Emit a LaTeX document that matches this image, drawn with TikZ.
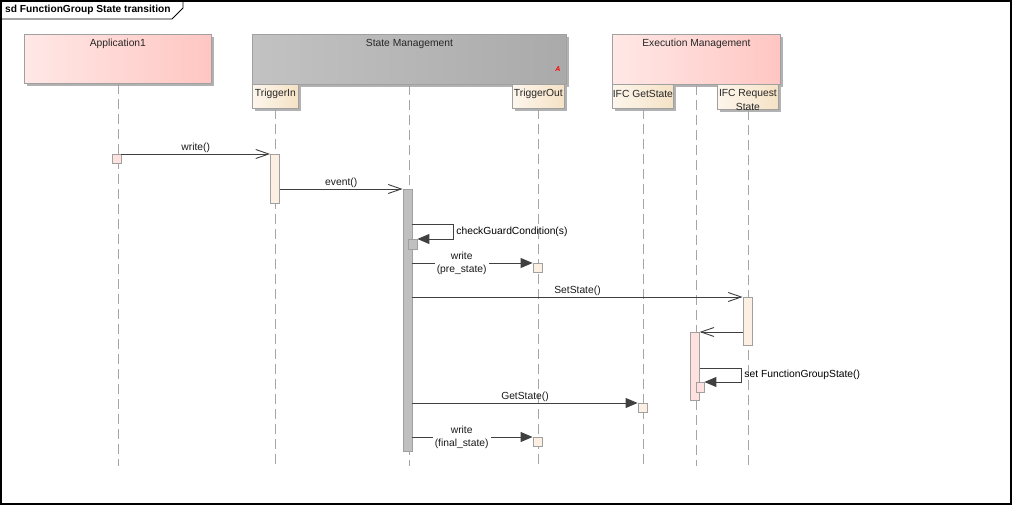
\documentclass[tikz,border=0pt]{standalone}
\usepackage{fontspec}
\setmainfont{Liberation Sans}
\usetikzlibrary{arrows.meta,shadows}
\definecolor{pinkL}{RGB}{255,232,230}
\definecolor{pinkR}{RGB}{255,198,194}
\definecolor{grayL}{RGB}{194,194,194}
\definecolor{grayR}{RGB}{170,170,170}
\definecolor{creamL}{RGB}{253,246,236}
\definecolor{creamR}{RGB}{245,226,197}
\definecolor{bordergray}{RGB}{160,160,160}
\definecolor{shadowgray}{RGB}{178,178,178}
\definecolor{lifegray}{RGB}{165,165,165}
\definecolor{msggray}{RGB}{64,64,64}
\definecolor{actcream}{RGB}{251,240,226}
\definecolor{actpink}{RGB}{255,226,224}
\definecolor{actgray}{RGB}{192,192,192}
\tikzset{
  hdrbox/.style={draw=bordergray, line width=0.8pt, anchor=north west, inner sep=0pt,
    drop shadow={shadow xshift=3pt, shadow yshift=-3pt, fill=shadowgray, opacity=1}},
  pinkgrad/.style={left color=pinkL, right color=pinkR},
  graygrad/.style={left color=grayL, right color=grayR},
  creamgrad/.style={left color=creamL, right color=creamR},
  hdrtext/.style={inner sep=0pt, text=black!85},
  life/.style={draw=lifegray, line width=0.8pt, dash pattern=on 10pt off 5pt},
  act/.style={draw=bordergray, line width=0.8pt, anchor=north, minimum width=9pt, inner sep=0pt},
  openmsg/.style={draw=msggray, line width=0.9pt, -{Straight Barb[length=13pt,width=9pt]}},
  fillmsg/.style={draw=msggray, line width=0.9pt, -{Triangle[length=12pt,width=10pt]}, fill=none},
  lbl/.style={inner sep=1pt, text=black!90},
}
\begin{document}
\begin{tikzpicture}[x=1pt,y=-1pt, font=\fontsize{10.3}{13}\selectfont]
\useasboundingbox (0,0) rectangle (1012,505);
% frame
\draw[line width=1.4pt] (1,1) rectangle (1011,504);
\draw[line width=0.9pt] (1,19) -- (172,19) -- (183,8) -- (183,1);
\node[anchor=west, inner sep=0pt, font=\fontsize{10.2}{12}\selectfont\bfseries] (title) at (5,10) {sd FunctionGroup State transition};

% header boxes
\node[hdrbox, pinkgrad, minimum width=187pt, minimum height=49pt] (app) at (24,34) {};
\node[hdrbox, graygrad, minimum width=314pt, minimum height=50pt] (smb) at (252,34) {};
\node[hdrbox, pinkgrad, minimum width=168pt, minimum height=50pt] (emb) at (612,34) {};
\node[hdrtext] (appT) at (app.north |- 0,44) {Application1};
\node[hdrtext] (smT) at (smb.north |- 0,44) {State Management};
\node[hdrtext] (emT) at (emb.north |- 0,44) {Execution Management};
\node[inner sep=0pt, text=red, font=\fontsize{7}{7}\selectfont\bfseries\itshape] (redA) at (558,69) {A};

% port boxes
\node[hdrbox, creamgrad, minimum width=46pt, minimum height=24pt] (tin) at (252,84) {};
\node[hdrbox, creamgrad, minimum width=52pt, minimum height=24pt] (tout) at (512,84) {};
\node[hdrbox, creamgrad, minimum width=61pt, minimum height=24pt] (igs) at (612,84) {};
\node[hdrbox, creamgrad, minimum width=61pt, minimum height=25pt] (irs) at (717,84) {};
\node[hdrtext] (tinT) at (tin.north |- 0,94) {TriggerIn};
\node[hdrtext] (toutT) at (tout.north |- 0,94) {TriggerOut};
\node[hdrtext] (igsT) at (igs.north |- 0,94) {IFC GetState};
\node[hdrtext, align=center, font=\fontsize{10.3}{13.5}\selectfont] (irsT) at (irs.north |- 0,100) {IFC Request\\State};

% lifelines
\coordinate (bottom) at (0,466);
\draw[life] (app.south) -- (app.south |- bottom);
\draw[life] (tin.south) -- (tin.south |- bottom);
\draw[life] (smb.south) -- (smb.south |- bottom);
\draw[life] (tout.south) -- (tout.south |- bottom);
\draw[life] (igs.south) -- (igs.south |- bottom);
\draw[life] (emb.south) -- (emb.south |- bottom);
\draw[life] (irs.south) -- (irs.south |- bottom);

% activations
\node[act, fill=actpink, minimum height=9pt] (a1) at (116.5,154) {};
\node[act, fill=actcream, minimum height=49pt] (ti) at (275,154) {};
\node[act, fill=actgray, minimum height=262pt] (sm) at (407.5,189) {};
\node[act, fill=actgray, minimum height=10pt] (cg) at (412.5,239) {};
\node[act, fill=actcream, minimum height=9pt] (wp) at (537.5,263) {};
\node[act, fill=actcream, minimum height=48pt] (rs) at (747.5,297) {};
\node[act, fill=actpink, minimum height=68pt, minimum width=8.5pt] (em) at (695,332) {};
\node[act, fill=actpink, minimum height=10pt, minimum width=8pt] (fg) at (700,382) {};
\node[act, fill=actcream, minimum height=9pt] (gs) at (642.5,403) {};
\node[act, fill=actcream, minimum height=9pt] (wf) at (537.5,437) {};

% messages
\draw[openmsg] (a1.north east) -- node[midway, above, lbl] (l1) {write()} (ti.north west);
\draw[openmsg] (ti.east |- sm.north west) -- node[midway, above, lbl] (l2) {event()} (sm.north west);
\coordinate (cgc) at (453,224);
\draw[fillmsg] (sm.east |- cgc) -- (cgc) |- node[pos=0.25, anchor=west, inner sep=3pt] (l3) {checkGuardCondition(s)} (cg.north east);
\draw[fillmsg] (sm.east |- wp.north) -- node[pos=0.41, fill=white, align=center, lbl, inner sep=2pt] (l4) {write\\(pre\_state)} (wp.north west);
\draw[openmsg] (sm.east |- rs.north) -- node[midway, above, lbl] (l5) {SetState()} (rs.north west);
\draw[openmsg] (rs.west |- em.north) -- (em.north east);
\coordinate (fgc) at (741,368);
\draw[fillmsg] (em.east |- fgc) -- (fgc) |- node[pos=0.25, anchor=west, inner sep=3pt] (l6) {set FunctionGroupState()} (fg.north east);
\draw[fillmsg] (sm.east |- gs.north) -- node[midway, above, lbl] (l7) {GetState()} (gs.north west);
\draw[fillmsg] (sm.east |- wf.north) -- node[pos=0.41, fill=white, align=center, lbl, inner sep=2pt] (l8) {write\\(final\_state)} (wf.north west);
\end{tikzpicture}
\end{document}
